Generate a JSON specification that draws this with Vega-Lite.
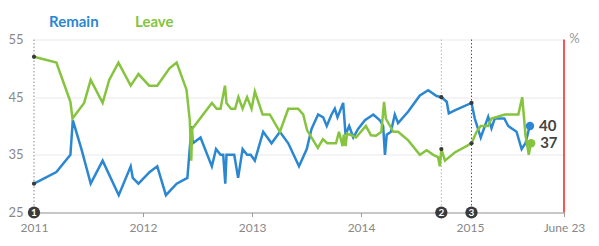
{
  "$schema": "https://vega.github.io/schema/vega-lite/v6.json",
  "width": 530,
  "height": 173,
  "autosize": "none",
  "padding": {"left": 34, "top": 39.5, "right": 35, "bottom": 33.5},
  "background": "white",
  "config": {"font": "Lato", "view": {"stroke": null}},
  "datasets": {
    "polls": [
      {"date": "2011-01-01", "side": "Remain", "value": 30},
      {"date": "2011-03-17", "side": "Remain", "value": 32},
      {"date": "2011-05-03", "side": "Remain", "value": 35},
      {"date": "2011-05-11", "side": "Remain", "value": 41},
      {"date": "2011-06-09", "side": "Remain", "value": 36},
      {"date": "2011-07-10", "side": "Remain", "value": 30},
      {"date": "2011-08-19", "side": "Remain", "value": 34},
      {"date": "2011-10-12", "side": "Remain", "value": 28},
      {"date": "2011-11-21", "side": "Remain", "value": 33},
      {"date": "2011-11-28", "side": "Remain", "value": 31},
      {"date": "2011-12-17", "side": "Remain", "value": 30},
      {"date": "2012-01-23", "side": "Remain", "value": 32},
      {"date": "2012-02-18", "side": "Remain", "value": 33},
      {"date": "2012-03-18", "side": "Remain", "value": 28},
      {"date": "2012-04-23", "side": "Remain", "value": 30},
      {"date": "2012-05-29", "side": "Remain", "value": 31},
      {"date": "2012-06-12", "side": "Remain", "value": 40},
      {"date": "2012-06-16", "side": "Remain", "value": 37},
      {"date": "2012-07-12", "side": "Remain", "value": 38},
      {"date": "2012-08-19", "side": "Remain", "value": 33},
      {"date": "2012-09-02", "side": "Remain", "value": 36},
      {"date": "2012-09-17", "side": "Remain", "value": 35},
      {"date": "2012-09-26", "side": "Remain", "value": 35},
      {"date": "2012-10-03", "side": "Remain", "value": 30},
      {"date": "2012-10-07", "side": "Remain", "value": 35},
      {"date": "2012-10-22", "side": "Remain", "value": 35},
      {"date": "2012-11-02", "side": "Remain", "value": 35},
      {"date": "2012-11-15", "side": "Remain", "value": 31},
      {"date": "2012-11-30", "side": "Remain", "value": 36},
      {"date": "2012-12-15", "side": "Remain", "value": 35},
      {"date": "2012-12-27", "side": "Remain", "value": 35},
      {"date": "2013-01-10", "side": "Remain", "value": 34},
      {"date": "2013-02-07", "side": "Remain", "value": 39},
      {"date": "2013-03-07", "side": "Remain", "value": 37},
      {"date": "2013-04-04", "side": "Remain", "value": 39},
      {"date": "2013-05-02", "side": "Remain", "value": 37},
      {"date": "2013-06-07", "side": "Remain", "value": 33},
      {"date": "2013-07-03", "side": "Remain", "value": 36},
      {"date": "2013-07-19", "side": "Remain", "value": 39.5},
      {"date": "2013-08-10", "side": "Remain", "value": 42},
      {"date": "2013-08-27", "side": "Remain", "value": 41.5},
      {"date": "2013-09-08", "side": "Remain", "value": 40},
      {"date": "2013-09-24", "side": "Remain", "value": 42},
      {"date": "2013-10-05", "side": "Remain", "value": 43},
      {"date": "2013-10-14", "side": "Remain", "value": 41.5},
      {"date": "2013-11-02", "side": "Remain", "value": 44},
      {"date": "2013-11-10", "side": "Remain", "value": 38.5},
      {"date": "2013-11-22", "side": "Remain", "value": 40},
      {"date": "2013-12-06", "side": "Remain", "value": 38},
      {"date": "2013-12-22", "side": "Remain", "value": 39.5},
      {"date": "2014-01-14", "side": "Remain", "value": 41},
      {"date": "2014-02-11", "side": "Remain", "value": 42},
      {"date": "2014-03-05", "side": "Remain", "value": 41},
      {"date": "2014-03-16", "side": "Remain", "value": 40},
      {"date": "2014-03-22", "side": "Remain", "value": 35},
      {"date": "2014-03-28", "side": "Remain", "value": 38.5},
      {"date": "2014-04-11", "side": "Remain", "value": 39},
      {"date": "2014-04-24", "side": "Remain", "value": 42},
      {"date": "2014-05-05", "side": "Remain", "value": 40.5},
      {"date": "2014-06-08", "side": "Remain", "value": 42.5},
      {"date": "2014-07-17", "side": "Remain", "value": 45.3},
      {"date": "2014-08-14", "side": "Remain", "value": 46.2},
      {"date": "2014-09-11", "side": "Remain", "value": 45.2},
      {"date": "2014-09-27", "side": "Remain", "value": 45},
      {"date": "2014-10-15", "side": "Remain", "value": 44.2},
      {"date": "2014-10-22", "side": "Remain", "value": 42.2},
      {"date": "2014-11-11", "side": "Remain", "value": 42.7},
      {"date": "2015-01-06", "side": "Remain", "value": 44},
      {"date": "2015-01-17", "side": "Remain", "value": 41.3},
      {"date": "2015-02-06", "side": "Remain", "value": 38},
      {"date": "2015-03-03", "side": "Remain", "value": 41.6},
      {"date": "2015-03-14", "side": "Remain", "value": 39.6},
      {"date": "2015-03-25", "side": "Remain", "value": 41.3},
      {"date": "2015-04-26", "side": "Remain", "value": 41.3},
      {"date": "2015-05-09", "side": "Remain", "value": 40},
      {"date": "2015-06-06", "side": "Remain", "value": 39},
      {"date": "2015-06-23", "side": "Remain", "value": 36},
      {"date": "2015-07-06", "side": "Remain", "value": 37},
      {"date": "2015-07-20", "side": "Remain", "value": 40},
      {"date": "2011-01-01", "side": "Leave", "value": 52},
      {"date": "2011-03-17", "side": "Leave", "value": 51},
      {"date": "2011-05-03", "side": "Leave", "value": 44.2},
      {"date": "2011-05-10", "side": "Leave", "value": 41.3},
      {"date": "2011-06-18", "side": "Leave", "value": 44},
      {"date": "2011-07-10", "side": "Leave", "value": 48},
      {"date": "2011-08-19", "side": "Leave", "value": 44},
      {"date": "2011-09-10", "side": "Leave", "value": 48},
      {"date": "2011-10-11", "side": "Leave", "value": 51},
      {"date": "2011-11-21", "side": "Leave", "value": 47},
      {"date": "2011-12-17", "side": "Leave", "value": 49},
      {"date": "2012-01-22", "side": "Leave", "value": 47},
      {"date": "2012-02-18", "side": "Leave", "value": 47},
      {"date": "2012-03-30", "side": "Leave", "value": 50},
      {"date": "2012-04-23", "side": "Leave", "value": 51},
      {"date": "2012-05-26", "side": "Leave", "value": 46.3},
      {"date": "2012-06-06", "side": "Leave", "value": 41},
      {"date": "2012-06-11", "side": "Leave", "value": 34},
      {"date": "2012-06-14", "side": "Leave", "value": 39.5},
      {"date": "2012-08-19", "side": "Leave", "value": 44},
      {"date": "2012-09-04", "side": "Leave", "value": 43},
      {"date": "2012-09-17", "side": "Leave", "value": 43},
      {"date": "2012-10-02", "side": "Leave", "value": 47},
      {"date": "2012-10-07", "side": "Leave", "value": 44},
      {"date": "2012-10-22", "side": "Leave", "value": 43},
      {"date": "2012-11-05", "side": "Leave", "value": 43},
      {"date": "2012-11-16", "side": "Leave", "value": 45},
      {"date": "2012-11-30", "side": "Leave", "value": 43},
      {"date": "2012-12-15", "side": "Leave", "value": 45},
      {"date": "2012-12-30", "side": "Leave", "value": 43},
      {"date": "2013-01-10", "side": "Leave", "value": 46},
      {"date": "2013-02-05", "side": "Leave", "value": 42},
      {"date": "2013-03-01", "side": "Leave", "value": 42},
      {"date": "2013-04-04", "side": "Leave", "value": 39},
      {"date": "2013-05-02", "side": "Leave", "value": 43},
      {"date": "2013-06-04", "side": "Leave", "value": 43},
      {"date": "2013-06-21", "side": "Leave", "value": 42},
      {"date": "2013-07-04", "side": "Leave", "value": 39.3},
      {"date": "2013-08-09", "side": "Leave", "value": 36.2},
      {"date": "2013-08-26", "side": "Leave", "value": 37.7},
      {"date": "2013-09-10", "side": "Leave", "value": 37},
      {"date": "2013-10-09", "side": "Leave", "value": 37},
      {"date": "2013-10-19", "side": "Leave", "value": 39},
      {"date": "2013-10-31", "side": "Leave", "value": 36.5},
      {"date": "2013-11-04", "side": "Leave", "value": 38.5},
      {"date": "2013-11-10", "side": "Leave", "value": 36.5},
      {"date": "2013-11-15", "side": "Leave", "value": 38.7},
      {"date": "2013-11-30", "side": "Leave", "value": 38.4},
      {"date": "2013-12-15", "side": "Leave", "value": 38},
      {"date": "2014-01-17", "side": "Leave", "value": 40},
      {"date": "2014-02-03", "side": "Leave", "value": 38.4},
      {"date": "2014-02-20", "side": "Leave", "value": 38.3},
      {"date": "2014-03-10", "side": "Leave", "value": 39},
      {"date": "2014-03-19", "side": "Leave", "value": 44.2},
      {"date": "2014-03-25", "side": "Leave", "value": 41.3},
      {"date": "2014-04-08", "side": "Leave", "value": 40},
      {"date": "2014-04-19", "side": "Leave", "value": 39},
      {"date": "2014-05-05", "side": "Leave", "value": 39},
      {"date": "2014-06-08", "side": "Leave", "value": 37.5},
      {"date": "2014-07-17", "side": "Leave", "value": 35},
      {"date": "2014-08-09", "side": "Leave", "value": 35.8},
      {"date": "2014-08-31", "side": "Leave", "value": 35},
      {"date": "2014-09-16", "side": "Leave", "value": 34.6},
      {"date": "2014-09-22", "side": "Leave", "value": 33},
      {"date": "2014-09-27", "side": "Leave", "value": 36},
      {"date": "2014-10-03", "side": "Leave", "value": 35},
      {"date": "2014-10-09", "side": "Leave", "value": 34},
      {"date": "2014-11-11", "side": "Leave", "value": 35.4},
      {"date": "2015-01-06", "side": "Leave", "value": 37},
      {"date": "2015-01-23", "side": "Leave", "value": 39},
      {"date": "2015-02-06", "side": "Leave", "value": 40},
      {"date": "2015-03-03", "side": "Leave", "value": 40},
      {"date": "2015-03-14", "side": "Leave", "value": 41.3},
      {"date": "2015-04-28", "side": "Leave", "value": 42},
      {"date": "2015-06-12", "side": "Leave", "value": 42},
      {"date": "2015-06-25", "side": "Leave", "value": 45},
      {"date": "2015-07-06", "side": "Leave", "value": 38.4},
      {"date": "2015-07-17", "side": "Leave", "value": 35},
      {"date": "2015-07-24", "side": "Leave", "value": 37}
    ],
    "markers": [
      {"id": "1", "date": "2011-01-01"},
      {"id": "2", "date": "2014-09-27"},
      {"id": "3", "date": "2015-01-06"}
    ],
    "markerPoints": [
      {"date": "2011-01-01", "side": "Remain", "value": 30},
      {"date": "2011-01-01", "side": "Leave", "value": 52},
      {"date": "2014-09-27", "side": "Remain", "value": 45},
      {"date": "2014-09-27", "side": "Leave", "value": 36},
      {"date": "2015-01-06", "side": "Remain", "value": 44},
      {"date": "2015-01-06", "side": "Leave", "value": 37}
    ],
    "latest": [
      {"date": "2015-07-21", "side": "Remain", "value": 40},
      {"date": "2015-07-25", "side": "Leave", "value": 37}
    ],
    "referendum": [
      {"date": "2015-11-12", "label": "June 23"}
    ]
  },
  "layer": [
    {
      "data": {"name": "markers"},
      "mark": {"type": "rule", "strokeDash": [1.5, 2], "strokeWidth": 1},
      "encoding": {
        "x": {"field": "date", "type": "temporal", "scale": {"type": "utc", "domain": [{"year": 2011, "month": 1, "date": 1, "utc": true}, {"year": 2015, "month": 11, "date": 12, "utc": true}], "nice": false}},
        "y": {"datum": 25, "type": "quantitative"},
        "y2": {"datum": 55},
        "stroke": {"field": "id", "type": "nominal", "scale": {"domain": ["1", "2", "3"], "range": ["#8a8a8a", "#b5b5b5", "#555555"]}, "legend": null}
      }
    },
    {
      "data": {"name": "polls"},
      "mark": {"type": "line", "strokeWidth": 2.5, "strokeJoin": "miter", "interpolate": "linear"},
      "encoding": {
        "x": {
          "field": "date", "type": "temporal",
          "axis": {
            "title": null,
            "values": [
              {"year": 2011, "month": 1, "date": 1, "utc": true},
              {"year": 2012, "month": 1, "date": 1, "utc": true},
              {"year": 2013, "month": 1, "date": 1, "utc": true},
              {"year": 2014, "month": 1, "date": 1, "utc": true},
              {"year": 2015, "month": 1, "date": 1, "utc": true},
              {"year": 2015, "month": 11, "date": 12, "utc": true}
            ],
            "labelExpr": "utcmonth(datum.value) > 5 ? 'June 23' : utcFormat(datum.value, '%Y')",
            "grid": false,
            "domainColor": "#9a9a9a",
            "tickColor": "#9a9a9a",
            "tickSize": 4,
            "labelColor": "#888888",
            "labelFontSize": 12,
            "labelPadding": 6,
            "labelFlush": false,
            "labelOverlap": false
          }
        },
        "y": {
          "field": "value", "type": "quantitative",
          "scale": {"domain": [25, 55], "nice": false, "zero": false},
          "axis": {
            "values": [25, 35, 45, 55],
            "grid": true,
            "gridColor": "#e9e9ec",
            "domain": false,
            "ticks": false,
            "labelPadding": 11,
            "labelColor": "#888888",
            "labelFontSize": 13,
            "title": "%",
            "titleAngle": 0,
            "titleX": 540,
            "titleY": -1,
            "titleAlign": "center",
            "titleBaseline": "middle",
            "titleColor": "#999999",
            "titleFontWeight": "normal",
            "titleFontSize": 13
          }
        },
        "color": {
          "field": "side", "type": "nominal",
          "scale": {"domain": ["Remain", "Leave"], "range": ["#2b87d1", "#86c440"]},
          "legend": {
            "orient": "none",
            "legendX": 0,
            "legendY": -25,
            "direction": "horizontal",
            "title": null,
            "symbolSize": 0,
            "symbolStrokeWidth": 0,
            "labelOffset": 0,
            "columnPadding": 21,
            "labelFontSize": 15,
            "labelFontWeight": "bold",
            "padding": 0,
            "encode": {"labels": {"update": {"fill": {"scale": "color", "field": "value"}}}}
          }
        }
      }
    },
    {
      "data": {"name": "markerPoints"},
      "mark": {"type": "point", "filled": true, "size": 18, "color": "#3a3a3a", "opacity": 1},
      "encoding": {
        "x": {"field": "date", "type": "temporal"},
        "y": {"field": "value", "type": "quantitative"}
      }
    },
    {
      "data": {"name": "latest"},
      "mark": {"type": "point", "filled": true, "size": 70, "opacity": 1},
      "encoding": {
        "x": {"field": "date", "type": "temporal"},
        "y": {"field": "value", "type": "quantitative"},
        "color": {"field": "side", "type": "nominal"}
      }
    },
    {
      "data": {"name": "latest"},
      "mark": {"type": "text", "align": "left", "baseline": "middle", "dx": 9, "fontSize": 15, "fontWeight": "bold", "color": "#444444"},
      "encoding": {
        "x": {"field": "date", "type": "temporal"},
        "y": {"field": "value", "type": "quantitative"},
        "text": {"field": "value", "type": "quantitative"}
      }
    },
    {
      "data": {"name": "referendum"},
      "mark": {"type": "rule", "color": "#ff1a1a", "strokeWidth": 1.5},
      "encoding": {
        "x": {"field": "date", "type": "temporal"},
        "y": {"datum": 25, "type": "quantitative"},
        "y2": {"datum": 55}
      }
    },
    {
      "data": {"name": "markers"},
      "mark": {"type": "point", "filled": true, "size": 150, "color": "#3a3a3a", "opacity": 1},
      "encoding": {
        "x": {"field": "date", "type": "temporal"},
        "y": {"datum": 25, "type": "quantitative"}
      }
    },
    {
      "data": {"name": "markers"},
      "mark": {"type": "text", "align": "center", "baseline": "middle", "fontSize": 10, "fontWeight": "bold", "color": "white", "dy": 0.5},
      "encoding": {
        "x": {"field": "date", "type": "temporal"},
        "y": {"datum": 25, "type": "quantitative"},
        "text": {"field": "id", "type": "nominal"}
      }
    }
  ]
}
